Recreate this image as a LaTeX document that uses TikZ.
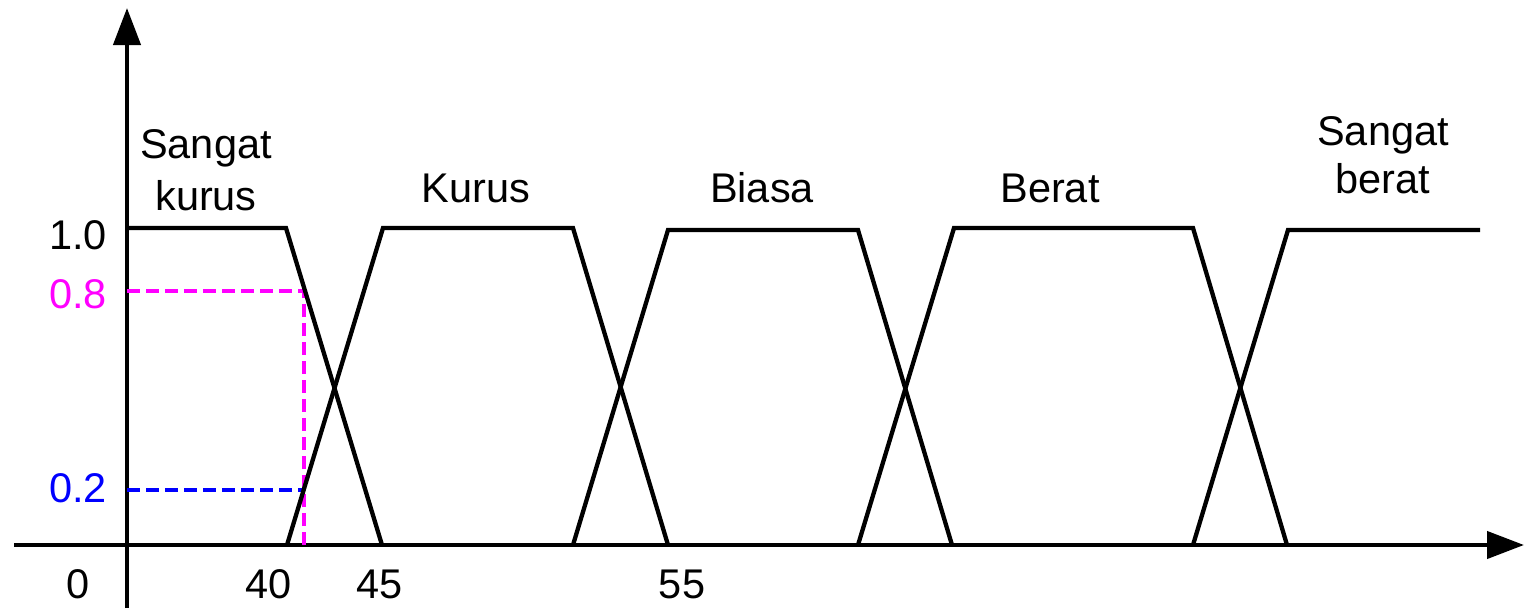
\documentclass[tikz,border=0pt]{standalone}
\usepackage{fontspec}
\setmainfont{Liberation Sans}
\usetikzlibrary{arrows.meta}
\definecolor{mag}{HTML}{FF00FF}
\definecolor{blu}{HTML}{0000FF}
\begin{document}
\begin{tikzpicture}[x=1pt,y=-1pt,
  axis/.style={line width=4.3pt,-{Triangle[length=37pt,width=27pt]}},
  mf/.style={line width=4.3pt,line join=miter},
  guide/.style={line width=3.6pt,dash pattern=on 13pt off 6pt},
  lbl/.style={font=\fontsize{41.5}{52}\selectfont,inner sep=0pt,anchor=base}]
\useasboundingbox (0,0) rectangle (1524,608);
% axes
\coordinate (yb) at (127,608);
\coordinate (yt) at (127,8);
\coordinate (xl) at (14,545);
\coordinate (xr) at (1524,545);
\draw[axis] (yb) -- (yt);
\draw[axis] (xl) -- (xr);
% guides
\coordinate (g8a) at (127,291);
\coordinate (g8b) at (304,291);
\coordinate (g8c) at (304,545);
\coordinate (g2a) at (127,490);
\coordinate (g2b) at (304,490);
\draw[guide,mag] (g8a) -- (g8b) -- (g8c);
\draw[guide,blu] (g2a) -- (g2b);
% membership functions
\draw[mf] (127,228) -- (286,228) -- (382,545);
\draw[mf] (287,545) -- (383,228) -- (573,228) -- (668,545);
\draw[mf] (573,545) -- (668,230) -- (858,230) -- (952,545);
\draw[mf] (858,545) -- (954,228) -- (1193,228) -- (1287,545);
\draw[mf] (1193,545) -- (1288,230) -- (1480,230);
% y labels
\node[lbl,anchor=base east] (l10) at (107,249) {1.0};
\node[lbl,anchor=base east,text=mag] (l08) at (107,308) {0.8};
\node[lbl,anchor=base east,text=blu] (l02) at (107,502) {0.2};
% x labels
\node[lbl] (l0) at (78,598) {0};
\node[lbl] (l40) at (269,598) {40};
\node[lbl] (l45) at (380,598) {45};
\node[lbl] (l55) at (682,598) {55};
% set labels
\node[lbl] (sk1) at (206,158) {Sangat};
\node[lbl] (sk2) at (206,210) {kurus};
\node[lbl] (ku) at (476,202) {Kurus};
\node[lbl] (bi) at (762,202) {Biasa};
\node[lbl] (be) at (1050,202) {Berat};
\node[lbl] (sb1) at (1383,145) {Sangat};
\node[lbl] (sb2) at (1383,193) {berat};
\end{tikzpicture}
\end{document}
